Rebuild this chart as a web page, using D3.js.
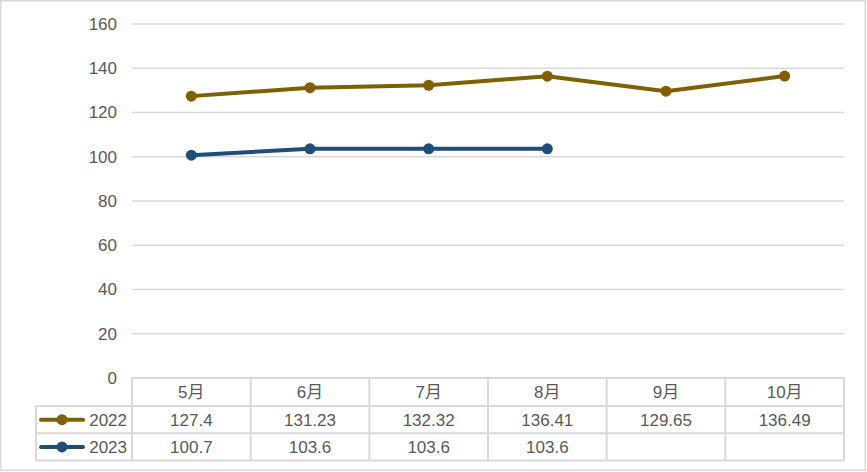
<!DOCTYPE html>
<html><head><meta charset="utf-8">
<script src="https://cdn.jsdelivr.net/npm/d3@7"></script>
<style>body{margin:0;background:#fff}svg{display:block}text{font-family:"Liberation Sans","Noto Sans CJK SC",Arial,sans-serif;fill:#595959}</style>
</head><body><svg id="c" width="867" height="472"></svg>
<script>
const categories = ["5月","6月","7月","8月","9月","10月"];
const series2022 = [127.4,131.23,132.32,136.41,129.65,136.49];
const series2023 = [100.7,103.6,103.6,103.6,null,null];
const seriesNames = ["2022","2023"];
const yTicks = [0,20,40,60,80,100,120,140,160];
const colors = ["#7F6000","#1F4E79"];
const FS = 17;

const svg = d3.select("#c");
const W=867,H=472;
const L=132,R=844,T=24,B=378;
svg.append("rect").attr("x",0.75).attr("y",0.75).attr("width",W-2.5).attr("height",H-2.5).attr("fill","#fff").attr("stroke","#d9d9d9").attr("stroke-width",1.5);

const x = d3.scaleBand().domain(categories).range([L,R]).padding(0);
const y = d3.scaleLinear().domain([0,160]).range([B,T]);

// gridlines
svg.append("g").selectAll("line").data(yTicks).join("line")
  .attr("x1",L).attr("x2",R).attr("y1",d=>y(d)).attr("y2",d=>y(d))
  .attr("stroke","#d9d9d9").attr("stroke-width",1.5);
// y axis labels
const ya = svg.append("g").attr("transform",`translate(${L-15},0)`).call(d3.axisLeft(y).tickValues(yTicks).tickSize(0).tickPadding(0));
ya.select(".domain").remove();
ya.selectAll("text").attr("font-size",FS).attr("fill","#595959").attr("font-family",'"Liberation Sans",Arial,sans-serif');

// table
const rowH=27.3;
const rows=[B,B+28,B+28+rowH,B+28+2*rowH];
const tg=svg.append("g");
const tStroke="#d9d9d9";
tg.append("line").attr("x1",L).attr("x2",R).attr("y1",rows[0]).attr("y2",rows[0]).attr("stroke",tStroke).attr("stroke-width",2);
[1,2,3].forEach(i=>tg.append("line").attr("x1",36).attr("x2",R).attr("y1",rows[i]).attr("y2",rows[i]).attr("stroke",tStroke).attr("stroke-width",2));
categories.forEach(c=>tg.append("line").attr("x1",x(c)).attr("x2",x(c)).attr("y1",rows[0]).attr("y2",rows[3]).attr("stroke",tStroke).attr("stroke-width",2));
tg.append("line").attr("x1",R).attr("x2",R).attr("y1",rows[0]).attr("y2",rows[3]).attr("stroke",tStroke).attr("stroke-width",2);
tg.append("line").attr("x1",36).attr("x2",36).attr("y1",rows[1]).attr("y2",rows[3]).attr("stroke",tStroke).attr("stroke-width",2);

tg.selectAll("text.h").data(categories).join("text").attr("class","h")
  .attr("x",d=>x(d)+x.bandwidth()/2).attr("y",(rows[0]+rows[1])/2).attr("dy","0.35em")
  .attr("text-anchor","middle").attr("font-size",FS).text(d=>d);
const allSeries=[series2022,series2023];
allSeries.forEach((s,i)=>{
  const cy=(rows[i+1]+rows[i+2])/2;
  tg.append("g").selectAll("text").data(s.map((v,j)=>({v,c:categories[j]})).filter(d=>d.v!=null)).join("text")
    .attr("x",d=>x(d.c)+x.bandwidth()/2).attr("y",cy).attr("dy","0.35em").attr("text-anchor","middle").attr("font-size",FS).text(d=>d.v);
  tg.append("line").attr("x1",41).attr("x2",83).attr("y1",cy).attr("y2",cy).attr("stroke",colors[i]).attr("stroke-width",4).attr("stroke-linecap","round");
  tg.append("circle").attr("cx",62).attr("cy",cy).attr("r",5.5).attr("fill",colors[i]);
  tg.append("text").attr("x",127).attr("y",cy).attr("dy","0.35em").attr("text-anchor","end").attr("font-size",FS).text(seriesNames[i]);
});

const line=d3.line().defined(d=>d.v!=null).x(d=>x(d.c)+x.bandwidth()/2).y(d=>y(d.v));
allSeries.forEach((s,i)=>{
  const data=s.map((v,j)=>({v,c:categories[j]}));
  svg.append("path").datum(data).attr("d",line).attr("fill","none").attr("stroke",colors[i]).attr("stroke-width",4).attr("stroke-linejoin","round").attr("stroke-linecap","round");
  svg.append("g").selectAll("circle").data(data.filter(d=>d.v!=null)).join("circle")
    .attr("cx",d=>x(d.c)+x.bandwidth()/2).attr("cy",d=>y(d.v)).attr("r",5.5).attr("fill",colors[i]);
});
</script></body></html>
